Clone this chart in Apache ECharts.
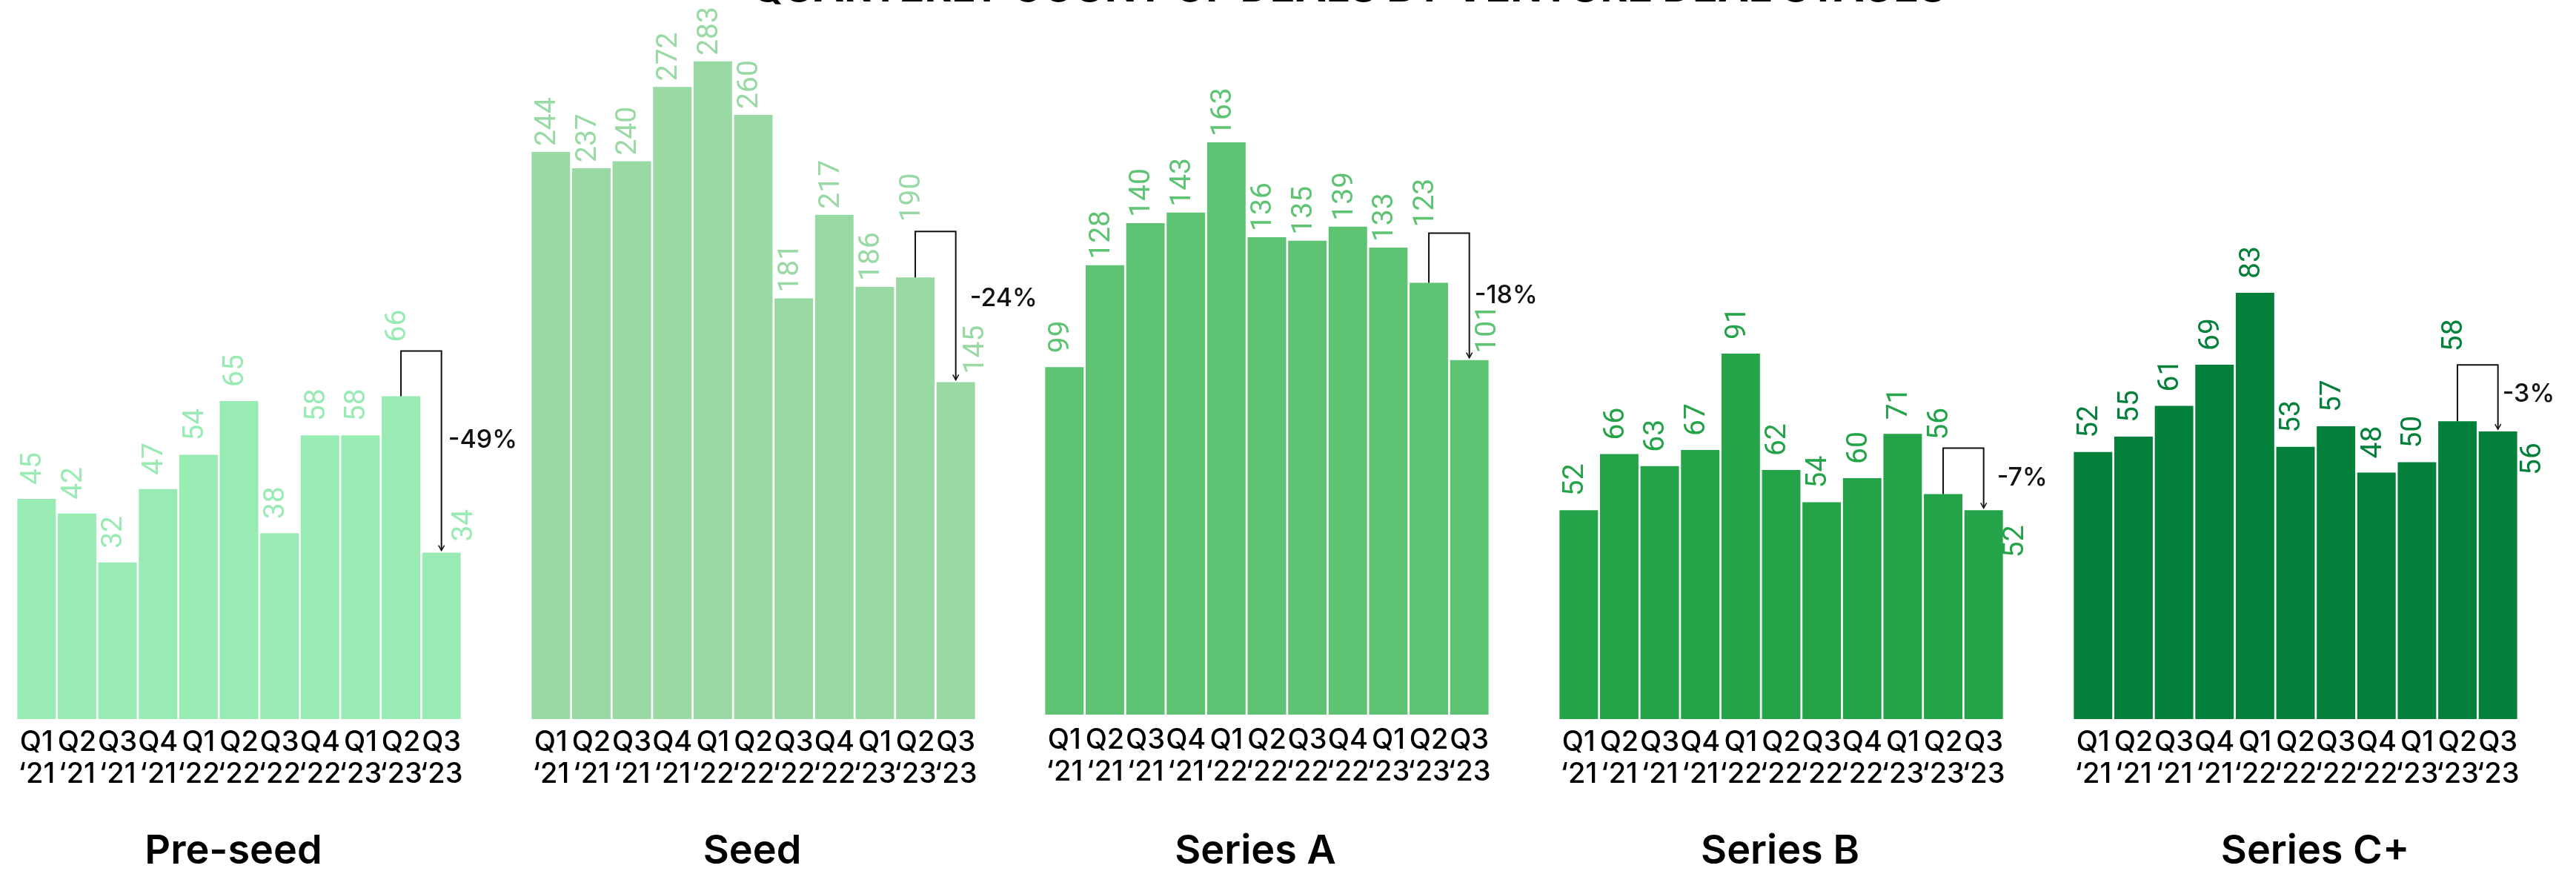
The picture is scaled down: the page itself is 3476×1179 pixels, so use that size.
<!DOCTYPE html>
<html><head><meta charset="utf-8">
<script src="https://cdn.jsdelivr.net/npm/echarts/dist/echarts.min.js"></script>
<style>html,body{margin:0;padding:0;background:#fff}#c{width:3476px;height:1179px}</style>
</head><body><div id="c"></div>
<script>
// ---------------- data ----------------
const quarters = ['Q1\n\u201821','Q2\n\u201821','Q3\n\u201821','Q4\n\u201821','Q1\n\u201822','Q2\n\u201822','Q3\n\u201822','Q4\n\u201822','Q1\n\u201823','Q2\n\u201823','Q3\n\u201823'];
const stageNames = ['Pre-seed','Seed','Series A','Series B','Series C+'];
const preSeed = [45,42,32,47,54,65,38,58,58,66,34];
const seed = [244,237,240,272,283,260,181,217,186,190,145];
const seriesA = [99,128,140,143,163,136,135,139,133,123,101];
const seriesB = [52,66,63,67,91,62,54,60,71,56,52];
const seriesCPlus = [52,55,61,69,83,53,57,48,50,58,56];
const qoqChange = ['-49%','-24%','-18%','-7%','-3%'];
const chartTitle = 'QUARTERLY COUNT OF DEALS BY VENTURE DEAL STAGES';

const stageValues = [preSeed, seed, seriesA, seriesB, seriesCPlus];

// ---------------- layout / style ----------------
const panels = [
  {left:22,   baseline:970, k:6.6,   max:100, color:'#99EBB4', titleX:315,  q2Dy:-54, lastOff:[32,4],  rise:61, margin:10, pctDx:9,  pctDy:-14},
  {left:716,  baseline:970, k:3.135, max:300, color:'#98D9A4', titleX:1015, q2Dy:-67, lastOff:[28,-3], rise:62, margin:10, pctDx:19, pctDy:-10},
  {left:1409, baseline:964, k:4.736, max:200, color:'#5EC473', titleX:1694, q2Dy:-67, lastOff:[26,-1], rise:67, margin:13, pctDx:7,  pctDy:0},
  {left:2103, baseline:970, k:5.418, max:150, color:'#24A348', titleX:2402, q2Dy:-54, lastOff:[44,83], rise:62, margin:10, pctDx:18, pctDy:0},
  {left:2797, baseline:970, k:6.928, max:100, color:'#038039', titleX:3124, q2Dy:-75, lastOff:[48,78], rise:76, margin:10, pctDx:6,  pctDy:-4}
];
const PANEL_W = 601;
const LABEL_FONT = 'Roboto';
const UI_FONT = 'Inter';

// label is rotated 90deg CCW, so its offset is given in the rotated frame
const screenOffset = (sx, sy) => [-sy, sx];

const grids = [], xAxes = [], yAxes = [], series = [], graphics = [];

graphics.push({type:'text', x:1820, y:-15, style:{text:chartTitle, font:'700 56px ' + UI_FONT, fill:'#000', align:'center', verticalAlign:'middle'}});

panels.forEach((P, i) => {
  const vals = stageValues[i];
  const h = P.max * P.k;
  grids.push({left:P.left, width:PANEL_W, top:P.baseline - h, height:h});
  xAxes.push({type:'category', gridIndex:i, data:quarters,
    axisLine:{show:false}, axisTick:{show:false}, splitLine:{show:false},
    axisLabel:{interval:0, margin:P.margin, color:'#000', fontFamily:UI_FONT, fontSize:38, fontWeight:500, lineHeight:43}});
  yAxes.push({type:'value', gridIndex:i, min:0, max:P.max, show:false, splitLine:{show:false}});

  const last = vals.length - 1;
  const items = vals.map((v, j) => {
    const d = String(v).length >= 3 ? 8 : 19;
    let off = screenOffset(-4, 0);
    if (j === last - 1) off = screenOffset(-4, P.q2Dy);
    if (j === last) off = screenOffset(P.lastOff[0], P.lastOff[1]);
    return {value:v, label:{distance:d, offset:off}};
  });
  series.push({
    type:'bar', name:stageNames[i], xAxisIndex:i, yAxisIndex:i, data:items,
    barCategoryGap:'5%', itemStyle:{color:P.color},
    label:{show:true, position:'top', rotate:90, align:'left', verticalAlign:'middle',
      color:P.color, fontFamily:LABEL_FONT, fontSize:39, fontWeight:400},
    silent:true, animation:false
  });
  series.push({
    type:'custom', xAxisIndex:i, yAxisIndex:i, clip:false, silent:true, animation:false, z:10,
    data:[[last - 1, vals[last - 1], last, vals[last]]],
    renderItem:(params, api) => {
      const p1 = api.coord([api.value(0), api.value(1)]);
      const p2 = api.coord([api.value(2), api.value(3)]);
      const topY = p1[1] - P.rise;
      const tipY = p2[1] - 3;
      return {type:'group', children:[
        {type:'polyline', shape:{points:[[p1[0], p1[1]], [p1[0], topY], [p2[0], topY], [p2[0], tipY]]},
          style:{stroke:'#111', lineWidth:2, fill:null}},
        {type:'polyline', shape:{points:[[p2[0]-4, tipY-7], [p2[0], tipY], [p2[0]+4, tipY-7]]},
          style:{stroke:'#111', lineWidth:1.5, fill:null}},
        {type:'text', style:{text:qoqChange[i], x:p2[0] + P.pctDx, y:(topY + tipY) / 2 + P.pctDy,
          fill:'#111', font:'500 34px ' + UI_FONT, align:'left', verticalAlign:'middle'}}
      ]};
    }
  });
  graphics.push({type:'text', x:P.titleX, y:1149, style:{text:stageNames[i], font:'600 54px ' + UI_FONT, fill:'#000', align:'center', verticalAlign:'middle'}});
});

const chart = echarts.init(document.getElementById('c'), null, {renderer:'canvas'});
chart.setOption({
  animation:false,
  backgroundColor:'#fff',
  grid:grids, xAxis:xAxes, yAxis:yAxes, series:series, graphic:graphics
});
</script>
</body></html>
